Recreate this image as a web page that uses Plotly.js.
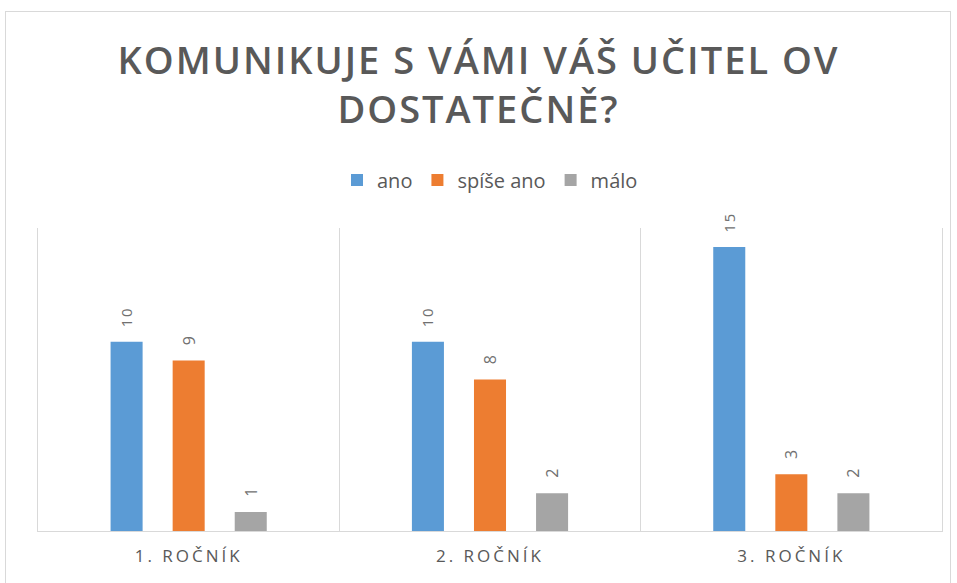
<!DOCTYPE html>
<html><head><meta charset="utf-8">
<script src="https://cdn.plot.ly/plotly-3.0.1.min.js"></script>
<style>
body{margin:0;background:#fff;}
#frame{position:absolute;left:5px;top:11px;width:946px;height:575px;border:1px solid #d9d9d9;box-sizing:border-box;}
#chart{position:absolute;left:0;top:0;width:957px;height:583px;}
.gtitle{letter-spacing:2px;}
.xtick text{letter-spacing:3px;}
text.bartext{letter-spacing:2px;}
</style>
</head><body>
<div id="frame"></div>
<div id="chart"></div>
<script>
const categories = ["1. ROČNÍK", "2. ROČNÍK", "3. ROČNÍK"];
const seriesNames = ["ano", "spíše ano", "málo"];
const ano = [10, 10, 15];
const spiseAno = [9, 8, 3];
const malo = [1, 2, 2];
const colors = ["#5B9BD5", "#ED7D31", "#A5A5A5"];
const values = [ano, spiseAno, malo];

const traces = values.map((v, i) => ({
  type: "bar",
  name: seriesNames[i],
  x: categories,
  y: v,
  text: v.map(n => "\u00a0\u00a0" + n),
  textposition: "outside",
  textangle: -90,
  cliponaxis: false,
  textfont: {family: "Open Sans, Liberation Sans, sans-serif", size: 16, color: "#707070"},
  marker: {color: colors[i]},
  hoverinfo: "none"
}));

const layout = {
  width: 957, height: 583,
  margin: {l: 38, r: 15, t: 228, b: 52},
  paper_bgcolor: "rgba(0,0,0,0)",
  plot_bgcolor: "rgba(0,0,0,0)",
  title: {
    text: "KOMUNIKUJE S VÁMI VÁŠ UČITEL OV<br>DOSTATEČNĚ?",
    font: {family: "Open Sans, sans-serif", size: 38, color: "#595959", weight: 600},
    x: 0.5, xanchor: "center", yref: "container", y: 1 - 74/583, yanchor: "top"
  },
  barmode: "group",
  bargap: 0.382,
  bargroupgap: 0.484,
  showlegend: true,
  legend: {
    orientation: "h", x: 0.5, xanchor: "center", yref: "container", y: 1 - 180/583, yanchor: "middle",
    font: {family: "Open Sans, Liberation Sans, sans-serif", size: 20, color: "#595959"},
    itemwidth: 30, traceorder: "normal"
  },
  xaxis: {
    type: "category",
    tickson: "boundaries",
    showgrid: true, gridcolor: "#d9d9d9", gridwidth: 1,
    ticks: "", showline: true, linecolor: "#d9d9d9", linewidth: 1,
    ticklabelstandoff: 10,
    tickfont: {family: "Open Sans, Liberation Sans, sans-serif", size: 17, color: "#595959"},
    fixedrange: true
  },
  yaxis: {
    range: [0, 16], showgrid: false, zeroline: false, showticklabels: false,
    showline: true, mirror: true, linecolor: "#d9d9d9", linewidth: 1, ticks: "",
    fixedrange: true
  }
};
Plotly.newPlot("chart", traces, layout, {displayModeBar: false, staticPlot: true});
</script>
</body></html>
